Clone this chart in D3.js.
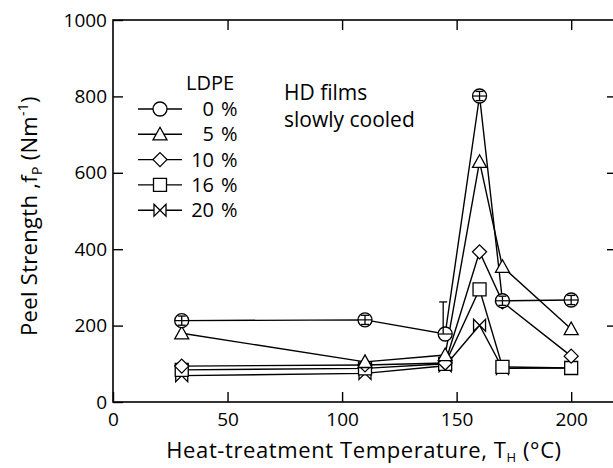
<!DOCTYPE html>
<html><head><meta charset="utf-8">
<script src="https://cdn.jsdelivr.net/npm/d3@7"></script>
<style>body{margin:0;background:#fff}svg{display:block}</style>
</head><body>
<svg id="c" width="613" height="468"></svg>
<script>
const temps = [30, 110, 145, 160, 170, 200];
const ldpe0  = [213, 215, 178, 801, 265, 267];
const ldpe5  = [180, 105, 123, 629, 354, 191];
const ldpe10 = [94, 97, 102, 393, 262, 120];
const ldpe16 = [84, 88, 100, 295, 92, 89];
const ldpe20 = [69, 75, 95, 201, 88, 89];
const err0   = [12, 12, 84, 12, 12, 12];
const seriesNames = ["0", "5", "10", "16", "20"];
const xTicks = [0, 50, 100, 150, 200];
const yTicks = [0, 200, 400, 600, 800, 1000];

const svg = d3.select("#c");
const font = "'Open Sans', sans-serif";
const x = d3.scaleLinear().domain([0, 220]).range([113, 617]);
const y = d3.scaleLinear().domain([0, 1000]).range([402, 20]);

svg.append("rect").attr("x", 113).attr("y", 20).attr("width", 617 - 113).attr("height", 382)
  .attr("fill", "none").attr("stroke", "#000").attr("stroke-width", 1.6);

const ax = g => g.selectAll(".domain").remove();
svg.append("g").attr("transform", "translate(0,402)")
  .call(d3.axisBottom(x).tickValues(xTicks).tickSizeInner(-10).tickPadding(11).tickSizeOuter(0).tickFormat(d3.format("d"))).call(ax)
  .call(g => g.selectAll("text").attr("font-size", 19).attr("font-family", font).attr("fill", "#000"))
  .call(g => g.selectAll("line").attr("stroke-width", 1.4));
svg.append("g").attr("transform", "translate(0,20)")
  .call(d3.axisTop(x).tickValues(xTicks.filter(v => v > 0)).tickSizeInner(-10).tickSizeOuter(0).tickFormat("")).call(ax)
  .call(g => g.selectAll("line").attr("stroke-width", 1.4));
svg.append("g").attr("transform", "translate(113,0)")
  .call(d3.axisLeft(y).tickValues(yTicks).tickSizeInner(-10).tickPadding(6).tickSizeOuter(0).tickFormat(d3.format("d"))).call(ax)
  .call(g => g.selectAll("text").attr("font-size", 19).attr("font-family", font).attr("fill", "#000"))
  .call(g => g.selectAll("line").attr("stroke-width", 1.4));
svg.append("g").attr("transform", "translate(617,0)")
  .call(d3.axisRight(y).tickValues(yTicks.filter(v => v > 0 && v < 1000)).tickSizeInner(-10).tickSizeOuter(0).tickFormat("")).call(ax)
  .call(g => g.selectAll("line").attr("stroke-width", 1.4));

const R = 7;
const sym = {
  "0": "circle",
  "5": `M0,${-R} L${R},${R*0.8} L${-R},${R*0.8} Z`,
  "10": `M0,${-R} L${R},0 L0,${R} L${-R},0 Z`,
  "16": `M${-R+0.5},${-R+0.5} H${R-0.5} V${R-0.5} H${-R+0.5} Z`,
  "20": `M${-R+1},${-R+1} L${R-1},${R-1} V${-R+1} L${-R+1},${R-1} Z`
};
function marker(g, name, cx, cy) {
  if (sym[name] === "circle") {
    g.append("circle").attr("cx", cx).attr("cy", cy).attr("r", R)
      .attr("fill", "#fff").attr("stroke", "#000").attr("stroke-width", 1.3);
  } else {
    g.append("path").attr("d", sym[name]).attr("transform", `translate(${cx},${cy})`)
      .attr("fill", "#fff").attr("stroke", "#000").attr("stroke-width", 1.3);
  }
}

const all = [ldpe0, ldpe5, ldpe10, ldpe16, ldpe20];
const line = d3.line().x(d => x(d[0])).y(d => y(d[1]));
const plot = svg.append("g");
for (let s = all.length - 1; s >= 0; s--) {
  const pts = temps.map((t, i) => [t, all[s][i]]);
  plot.append("path").attr("d", line(pts)).attr("fill", "none").attr("stroke", "#000").attr("stroke-width", 1.4);
}
for (let s = all.length - 1; s >= 0; s--) {
  temps.forEach((t, i) => marker(plot, seriesNames[s], x(t), y(all[s][i])));
}
temps.forEach((t, i) => {
  const cx = x(t) - (i === 2 ? 2 : 0);
  const top = y(ldpe0[i] + err0[i]);
  const bot = y(ldpe0[i] - (i === 2 ? 0 : err0[i]));
  plot.append("line").attr("x1", cx).attr("x2", cx).attr("y1", top).attr("y2", bot).attr("stroke", "#000").attr("stroke-width", 1.3);
  plot.append("line").attr("x1", cx - 4).attr("x2", cx + 4).attr("y1", top).attr("y2", top).attr("stroke", "#000").attr("stroke-width", 1.3);
  if (i !== 2) plot.append("line").attr("x1", cx - 4).attr("x2", cx + 4).attr("y1", bot).attr("y2", bot).attr("stroke", "#000").attr("stroke-width", 1.3);
  plot.append("line").attr("x1", x(t) - R).attr("x2", x(t) + R).attr("y1", y(ldpe0[i])).attr("y2", y(ldpe0[i])).attr("stroke", "#000").attr("stroke-width", 1.2);
});

const leg = svg.append("g").attr("font-family", font).attr("font-size", 20);
leg.append("text").attr("x", 186).attr("y", 90).text("LDPE");
seriesNames.forEach((n, i) => {
  const ly = 109 + i * 25.3;
  leg.append("line").attr("x1", 138).attr("x2", 182).attr("y1", ly).attr("y2", ly).attr("stroke", "#000").attr("stroke-width", 1.4);
  marker(leg, n, 160, ly);
  leg.append("text").attr("x", 214).attr("y", ly + 7).attr("text-anchor", "end").text(n);
  leg.append("text").attr("x", 221).attr("y", ly + 7).text("%");
});

const ann = svg.append("g").attr("font-family", font).attr("font-size", 21);
ann.append("text").attr("x", 284).attr("y", 100).text("HD films");
ann.append("text").attr("x", 284).attr("y", 127).text("slowly cooled");

const xt = svg.append("text").attr("x", 364).attr("y", 458).attr("text-anchor", "middle")
  .attr("font-family", font).attr("font-size", 22).attr("letter-spacing", 0.6);
xt.append("tspan").text("Heat-treatment Temperature, T");
xt.append("tspan").attr("font-size", 13).attr("dy", 4).text("H");
xt.append("tspan").attr("dy", -4).text(" (°C)");

const yt = svg.append("text").attr("transform", "translate(37,216) rotate(-90)").attr("text-anchor", "middle")
  .attr("font-family", font).attr("font-size", 22).attr("letter-spacing", 0.3);
yt.append("tspan").text("Peel Strength ,f");
yt.append("tspan").attr("font-size", 14).attr("dy", 5).text("P");
yt.append("tspan").attr("dy", -5).text(" (Nm");
yt.append("tspan").attr("font-size", 14).attr("dy", -9).text("-1");
yt.append("tspan").attr("dy", 9).text(")");
</script>
</body></html>
